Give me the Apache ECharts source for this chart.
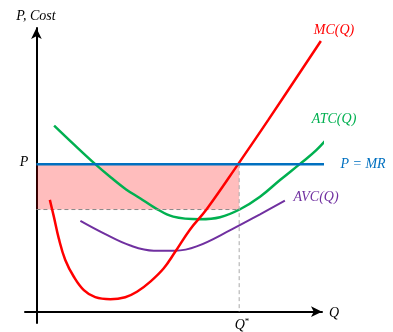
<!DOCTYPE html>
<html style="height: 100%">
<head>
  <meta charset="utf-8">
  <script src="https://cdn.jsdelivr.net/npm/echarts@6/dist/echarts.min.js"></script>
</head>
<body style="height: 100%; margin: 0; background: #fff">
  <div id="container" style="width: 393px; height: 332px"></div>
  <script type="text/javascript">
    // 曲线取点 [Q, Cost]
    var mcCurve = [[4.7, 39.4], [6.1, 33.5], [7.8, 25.9], [10.1, 18.2], [13.1, 12.3], [16.6, 7.6],
      [20.6, 5.1], [25.9, 4.4], [31.1, 5.1], [35.2, 7.0], [39.9, 10.6], [44.6, 15.3], [48.6, 21.1],
      [53.8, 29.0], [59.6, 36.1], [70.7, 52.1], [81.2, 67.6], [99.6, 95.4]];
    var atcCurve = [[6.2, 65.6], [13.3, 58.8], [20.5, 52.1], [26.1, 47.3], [31.4, 43.1], [36.3, 40.0],
      [41.5, 36.6], [47.9, 33.5], [57.3, 32.6], [64.3, 33.3], [71.3, 36.1], [78.3, 40.5], [85.3, 46.4],
      [92.3, 52.1], [98.1, 57.0], [103.4, 62.9]];
    var avcCurve = [[15.4, 32.0], [23.6, 27.6], [32.9, 23.3], [41.1, 21.5], [48.6, 21.5], [56.1, 23.0],
      [68.4, 29.0], [78.3, 34.3], [87.0, 39.1]];
    var price = 52;      // P = MR
    var qStar = 71;      // Q*
    var atcAtQ = 36;     // ATC(Q*)
    var priceEnd = 104;

    var dom = document.getElementById("container");
    var myChart = echarts.init(dom);
    var font = '"Liberation Serif", serif';

    function lineSeries(data, color, width, z) {
      return {
        type: 'line',
        data: data,
        smooth: 0.4,
        symbol: 'none',
        clip: false,
        silent: true,
        animation: false,
        z: z,
        lineStyle: { color: color, width: width }
      };
    }

    function txt(text, x, y, color) {
      return {
        type: 'text',
        x: x,
        y: y,
        style: {
          text: text,
          fill: color,
          font: 'italic 14px ' + font,
          align: 'center',
          verticalAlign: 'middle'
        }
      };
    }

    var option = {
      animation: false,
      grid: { left: 25, top: 28, width: 297, height: 295 },
      xAxis: {
        type: 'value', min: -4, max: 100,
        axisLine: { onZero: true, symbol: ['none', 'arrow'], symbolSize: [8, 11], lineStyle: { color: '#000', width: 2 } },
        axisTick: { show: false }, axisLabel: { show: false }, splitLine: { show: false }
      },
      yAxis: {
        type: 'value', min: -4, max: 100,
        axisLine: { onZero: true, symbol: ['none', 'arrow'], symbolSize: [8, 11], lineStyle: { color: '#000', width: 2 } },
        axisTick: { show: false }, axisLabel: { show: false }, splitLine: { show: false }
      },
      series: [
        lineSeries(atcCurve, '#00b050', 2.5, 2),
        // 利润区域 + 虚线
        {
          type: 'line',
          data: [[0, atcAtQ], [qStar, atcAtQ]],
          symbol: 'none', silent: true, animation: false, z: 3,
          lineStyle: { color: '#888', width: 1, type: [4, 3] },
          markArea: {
            silent: true,
            itemStyle: { color: 'rgba(255,0,0,0.26)' },
            data: [[{ coord: [0, price] }, { coord: [qStar, atcAtQ] }]]
          }
        },
        {
          type: 'line',
          data: [[qStar, price], [qStar, 0]],
          symbol: 'none', silent: true, animation: false, z: 3,
          lineStyle: { color: '#aaa', width: 1, type: [4, 3] }
        },
        lineSeries(avcCurve, '#7030a0', 2, 4),
        lineSeries(mcCurve, '#ff0000', 2.5, 5),
        {
          type: 'line',
          data: [[0, price], [priceEnd, price]],
          symbol: 'none', silent: true, animation: false, clip: false, z: 6,
          lineStyle: { color: '#0070c0', width: 2.5 }
        }
      ],
      graphic: [
        txt('P, Cost', 36, 16, '#000'),
        txt('P', 24, 162, '#000'),
        txt('MC(Q)', 334, 30, '#ff0000'),
        txt('ATC(Q)', 334, 119, '#00b050'),
        txt('P = MR', 363, 164, '#0070c0'),
        txt('AVC(Q)', 316, 197, '#7030a0'),
        txt('Q', 334, 313, '#000'),
        {
          type: 'text', x: 242, y: 325,
          style: {
            text: '{a|Q}{b|*}', align: 'center', verticalAlign: 'middle',
            rich: {
              a: { font: 'italic 14px ' + font, fill: '#000' },
              b: { font: '9px ' + font, fill: '#000', verticalAlign: 'top', padding: [0, 0, 6, 0] }
            }
          }
        }
      ]
    };
    myChart.setOption(option);
  </script>
</body>
</html>
